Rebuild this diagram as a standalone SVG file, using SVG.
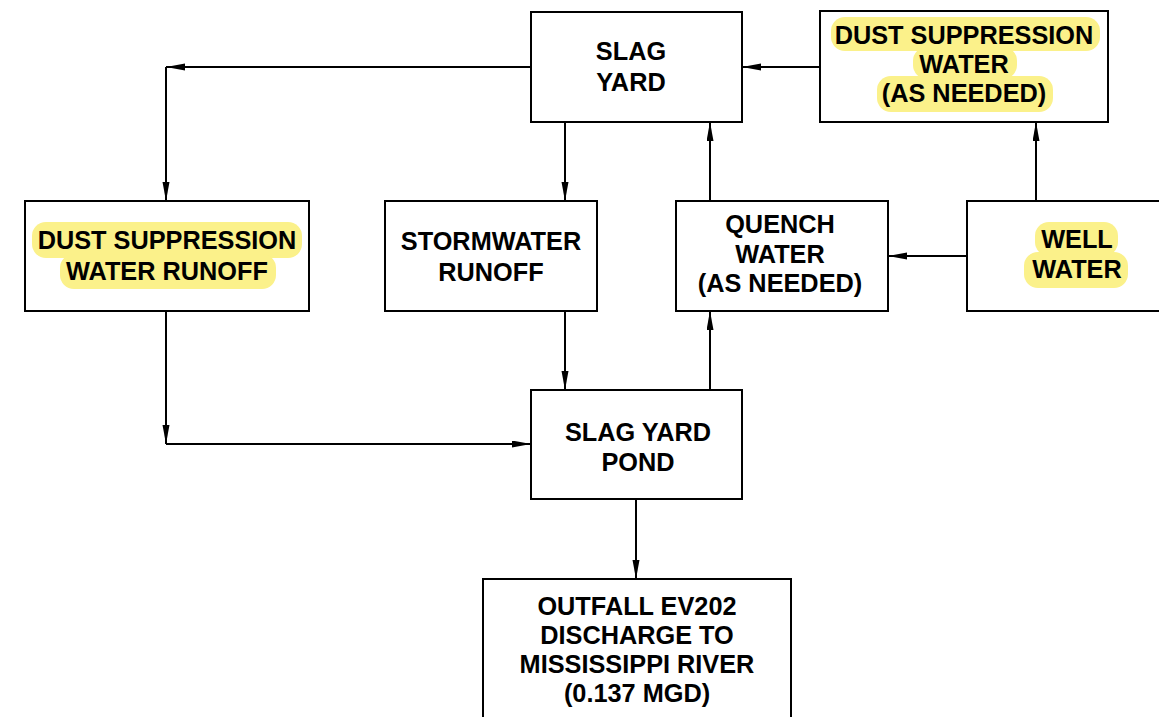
<svg xmlns="http://www.w3.org/2000/svg" width="1159" height="717" viewBox="0 0 1159 717">
<style>
.box{fill:#fff;stroke:#000;stroke-width:2}
.t{font-family:"Liberation Sans",Arial,sans-serif;font-weight:bold;font-size:25.3px;fill:#000;text-anchor:middle}
.hl{fill:#FBF18A}
.c{fill:none;stroke:#000;stroke-width:2;marker-end:url(#ah)}
</style>
<defs>
<marker id="ah" markerUnits="userSpaceOnUse" markerWidth="20" markerHeight="8" refX="19" refY="3.5" orient="auto">
<path d="M0,0 L19,3.5 L0,7 Z" fill="#000"/>
</marker>
</defs>
<rect width="1159" height="717" fill="#fff"/>
<g id="connectors">
<line class="c" x1="531" y1="67" x2="166" y2="67"/>
<line class="c" x1="166" y1="67" x2="166" y2="201"/>
<line class="c" x1="565" y1="122" x2="565" y2="201"/>
<line class="c" x1="565" y1="311" x2="565" y2="390"/>
<line class="c" x1="166" y1="311" x2="166" y2="444"/>
<line class="c" x1="166" y1="444" x2="531" y2="444"/>
<line class="c" x1="710" y1="390" x2="710" y2="311"/>
<line class="c" x1="710" y1="201" x2="710" y2="122"/>
<line class="c" x1="820" y1="67" x2="742" y2="67"/>
<line class="c" x1="966" y1="256" x2="888" y2="256"/>
<line class="c" x1="1036" y1="201" x2="1036" y2="122"/>
<line class="c" x1="636" y1="499" x2="636" y2="579"/>
</g>
<g id="slag-yard">
<rect class="box" x="531" y="12" width="211" height="110"/>
<text class="t" x="631" y="60">SLAG</text>
<text class="t" x="631" y="91">YARD</text>
</g>
<g id="dust-suppression-water">
<rect class="box" x="820" y="11" width="288" height="111"/>
<rect class="hl" x="831" y="17" width="269" height="34" rx="14"/>
<rect class="hl" x="913" y="47" width="104" height="32" rx="14"/>
<rect class="hl" x="877" y="76" width="176" height="36" rx="14"/>
<text class="t" x="964" y="44">DUST SUPPRESSION</text>
<text class="t" x="964" y="73">WATER</text>
<text class="t" x="964" y="102">(AS NEEDED)</text>
</g>
<g id="dust-suppression-runoff">
<rect class="box" x="25" y="201" width="284" height="110"/>
<rect class="hl" x="32" y="222" width="270" height="36" rx="14"/>
<rect class="hl" x="60" y="254" width="216" height="35" rx="14"/>
<text class="t" x="167" y="249">DUST SUPPRESSION</text>
<text class="t" x="167" y="280">WATER RUNOFF</text>
</g>
<g id="stormwater-runoff">
<rect class="box" x="385" y="201" width="212" height="110"/>
<text class="t" x="491" y="250">STORMWATER</text>
<text class="t" x="491" y="281">RUNOFF</text>
</g>
<g id="quench-water">
<rect class="box" x="676" y="201" width="212" height="110"/>
<text class="t" x="780" y="233">QUENCH</text>
<text class="t" x="780" y="263">WATER</text>
<text class="t" x="780" y="292">(AS NEEDED)</text>
</g>
<g id="well-water">
<rect class="box" x="967" y="201" width="200" height="110"/>
<rect class="hl" x="1035" y="222" width="83" height="34" rx="14"/>
<rect class="hl" x="1024" y="252" width="104" height="36" rx="14"/>
<text class="t" x="1077" y="248">WELL</text>
<text class="t" x="1077" y="278">WATER</text>
</g>
<g id="slag-yard-pond">
<rect class="box" x="531" y="390" width="211" height="109"/>
<text class="t" x="638" y="441">SLAG YARD</text>
<text class="t" x="638" y="471">POND</text>
</g>
<g id="outfall">
<rect class="box" x="483" y="579" width="308" height="150"/>
<text class="t" x="637" y="615">OUTFALL EV202</text>
<text class="t" x="637" y="644">DISCHARGE TO</text>
<text class="t" x="637" y="673">MISSISSIPPI RIVER</text>
<text class="t" x="637" y="702">(0.137 MGD)</text>
</g>
</svg>
